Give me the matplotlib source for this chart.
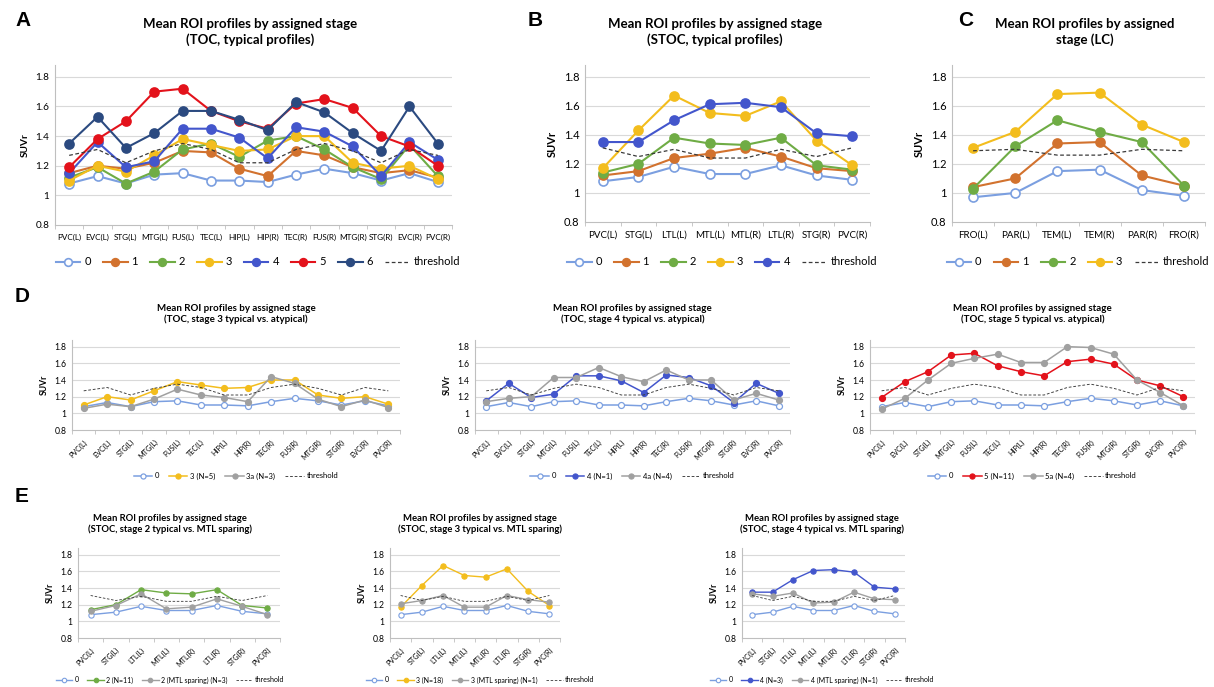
import numpy as np
import matplotlib
matplotlib.use("Agg")
import matplotlib.pyplot as plt

plt.rcParams["font.family"] = ["Lato", "DejaVu Sans"]

W, H = 1214, 687

# region labels
TOC_REGIONS = ["PVC(L)", "EVC(L)", "STG(L)", "MTG(L)", "FUS(L)", "TEC(L)", "HIP(L)",
               "HIP(R)", "TEC(R)", "FUS(R)", "MTG(R)", "STG(R)", "EVC(R)", "PVC(R)"]
STOC_REGIONS = ["PVC(L)", "STG(L)", "LTL(L)", "MTL(L)", "MTL(R)", "LTL(R)", "STG(R)", "PVC(R)"]
LC_REGIONS = ["FRO(L)", "PAR(L)", "TEM(L)", "TEM(R)", "PAR(R)", "FRO(R)"]

# TOC profiles (panel A and D)
toc_threshold = [1.27, 1.31, 1.22, 1.30, 1.35, 1.31, 1.22, 1.22, 1.31, 1.35, 1.30, 1.22, 1.31, 1.27]
toc_stage0 = [1.08, 1.13, 1.08, 1.14, 1.15, 1.10, 1.10, 1.09, 1.14, 1.18, 1.15, 1.10, 1.15, 1.09]
toc_stage1 = [1.15, 1.20, 1.18, 1.22, 1.30, 1.29, 1.18, 1.13, 1.30, 1.27, 1.19, 1.15, 1.17, 1.12]
toc_stage2 = [1.12, 1.19, 1.08, 1.16, 1.31, 1.35, 1.26, 1.37, 1.40, 1.31, 1.19, 1.11, 1.34, 1.13]
toc_stage3 = [1.10, 1.20, 1.16, 1.27, 1.38, 1.34, 1.30, 1.31, 1.40, 1.40, 1.22, 1.18, 1.20, 1.11]
toc_stage4 = [1.15, 1.36, 1.19, 1.23, 1.45, 1.45, 1.39, 1.25, 1.46, 1.43, 1.33, 1.13, 1.36, 1.24]
toc_stage5 = [1.19, 1.38, 1.50, 1.70, 1.72, 1.57, 1.50, 1.45, 1.62, 1.65, 1.59, 1.40, 1.33, 1.20]
toc_stage6 = [1.35, 1.53, 1.32, 1.42, 1.57, 1.57, 1.51, 1.44, 1.63, 1.56, 1.42, 1.30, 1.60, 1.35]
toc_stage3a = [1.06, 1.11, 1.08, 1.17, 1.29, 1.22, 1.19, 1.14, 1.44, 1.36, 1.17, 1.08, 1.16, 1.07]
toc_stage4a = [1.14, 1.18, 1.20, 1.43, 1.43, 1.55, 1.44, 1.38, 1.52, 1.40, 1.40, 1.16, 1.24, 1.16]
toc_stage5a = [1.05, 1.18, 1.40, 1.60, 1.66, 1.71, 1.61, 1.61, 1.80, 1.79, 1.71, 1.40, 1.25, 1.09]

# STOC profiles (panel B and E)
stoc_threshold = [1.31, 1.25, 1.30, 1.24, 1.24, 1.30, 1.25, 1.31]
stoc_stage0 = [1.08, 1.11, 1.18, 1.13, 1.13, 1.19, 1.12, 1.09]
stoc_stage1 = [1.12, 1.15, 1.24, 1.27, 1.31, 1.25, 1.17, 1.15]
stoc_stage2 = [1.14, 1.20, 1.38, 1.34, 1.33, 1.38, 1.19, 1.16]
stoc_stage3 = [1.17, 1.43, 1.67, 1.55, 1.53, 1.63, 1.36, 1.19]
stoc_stage4 = [1.35, 1.35, 1.50, 1.61, 1.62, 1.59, 1.41, 1.39]
stoc_stage2_mtl = [1.12, 1.19, 1.33, 1.15, 1.17, 1.27, 1.18, 1.08]
stoc_stage3_mtl = [1.21, 1.25, 1.31, 1.17, 1.17, 1.31, 1.26, 1.23]
stoc_stage4_mtl = [1.33, 1.30, 1.34, 1.22, 1.23, 1.35, 1.27, 1.26]

# LC profiles (panel C)
lc_threshold = [1.29, 1.30, 1.26, 1.26, 1.30, 1.29]
lc_stage0 = [0.97, 1.00, 1.15, 1.16, 1.02, 0.98]
lc_stage1 = [1.04, 1.10, 1.34, 1.35, 1.12, 1.05]
lc_stage2 = [1.03, 1.32, 1.50, 1.42, 1.35, 1.05]
lc_stage3 = [1.31, 1.42, 1.68, 1.69, 1.47, 1.35]

C0 = "#7b9fe0"
C1 = "#d2722e"
C2 = "#6fac45"
C3 = "#f3bd1d"
C4 = "#4356cc"
C5 = "#e3121b"
C6 = "#2b4a80"
GRAY = "#a0a0a0"
THR = "#3a3a3a"


def px_axes(fig, left, top, right, bottom):
    return fig.add_axes([left / W, 1 - bottom / H, (right - left) / W, (bottom - top) / H])


def style_axes(ax, labels, tick_fs, rotate=False, ytick_fs=None):
    n = len(labels)
    ax.set_xlim(-0.5, n - 0.5)
    ax.set_ylim(0.8, 1.88)
    ax.set_yticks([0.8, 1.0, 1.2, 1.4, 1.6, 1.8])
    ax.set_yticklabels(["0.8", "1", "1.2", "1.4", "1.6", "1.8"],
                       fontsize=ytick_fs or tick_fs + 1)
    ax.set_xticks(range(n))
    if rotate:
        ax.set_xticklabels(labels, fontsize=tick_fs, rotation=45, ha="right",
                           rotation_mode="anchor")
    else:
        ax.set_xticklabels(labels, fontsize=tick_fs)
    ax.set_xticks(np.arange(-0.5, n), minor=True)
    ax.tick_params(axis="x", which="major", length=0, pad=6)
    ax.tick_params(axis="x", which="minor", length=3, color="#bfbfbf")
    ax.tick_params(axis="y", length=0, pad=4)
    for y in [1.0, 1.2, 1.4, 1.6, 1.8]:
        ax.axhline(y, color="#d9d9d9", lw=0.8, zorder=0)
    for side in ["top", "right"]:
        ax.spines[side].set_visible(False)
    for side in ["left", "bottom"]:
        ax.spines[side].set_color("#bfbfbf")
        ax.spines[side].set_linewidth(0.8)
    ax.set_ylabel("SUVr", fontsize=(ytick_fs or tick_fs + 1), fontweight="bold", labelpad=4)
    ax.set_facecolor("none")


def draw(ax, series, threshold, ms, lw):
    x = range(len(threshold))
    for values, color, label, hollow in series:
        ax.plot(x, values, color=color, lw=lw, marker="o", ms=ms,
                mfc="white" if hollow else color, mec=color, mew=lw * 0.8, label=label)
    ax.plot(x, threshold, color=THR, lw=lw * 0.6, ls=(0, (3, 2)), label="threshold")


def legend(fig, ax, cx, cy, fs, hl=2.2, cs=1.1):
    handles, labels = ax.get_legend_handles_labels()
    fig.legend(handles, labels, loc="center", bbox_to_anchor=(cx / W, 1 - cy / H),
               ncol=len(labels), frameon=False, fontsize=fs, handlelength=hl,
               handletextpad=0.35, columnspacing=cs, markerscale=0.85)


fig = plt.figure(figsize=(W / 100, H / 100), dpi=100)

# ---- panel A
ax = px_axes(fig, 55, 65, 452, 225)
style_axes(ax, TOC_REGIONS, 5.9, ytick_fs=7.2)
draw(ax, [(toc_stage0, C0, "0", True), (toc_stage1, C1, "1", False),
          (toc_stage2, C2, "2", False), (toc_stage3, C3, "3", False),
          (toc_stage4, C4, "4", False), (toc_stage5, C5, "5", False),
          (toc_stage6, C6, "6", False)], toc_threshold, 6.5, 1.5)
legend(fig, ax, 258, 262, 8)

# ---- panel B
ax = px_axes(fig, 585, 65, 870, 222)
style_axes(ax, STOC_REGIONS, 7)
draw(ax, [(stoc_stage0, C0, "0", True), (stoc_stage1, C1, "1", False),
          (stoc_stage2, C2, "2", False), (stoc_stage3, C3, "3", False),
          (stoc_stage4, C4, "4", False)], stoc_threshold, 6.5, 1.5)
legend(fig, ax, 722, 262, 8)

# ---- panel C
ax = px_axes(fig, 952, 65, 1205, 222)
style_axes(ax, LC_REGIONS, 7)
draw(ax, [(lc_stage0, C0, "0", True), (lc_stage1, C1, "1", False),
          (lc_stage2, C2, "2", False), (lc_stage3, C3, "3", False)],
     lc_threshold, 6.5, 1.5)
legend(fig, ax, 1078, 262, 8)

# ---- panel D
d_specs = [
    (72, 400, toc_stage3, C3, "3 (N=5)", toc_stage3a, "3a (N=3)", "stage 3"),
    (475, 790, toc_stage4, C4, "4 (N=1)", toc_stage4a, "4a (N=4)", "stage 4"),
    (870, 1195, toc_stage5, C5, "5 (N=11)", toc_stage5a, "5a (N=4)", "stage 5"),
]
for left, right, typ, col, lab, atyp, alab, stage in d_specs:
    ax = px_axes(fig, left, 340, right, 430)
    style_axes(ax, TOC_REGIONS, 5.2, rotate=True)
    draw(ax, [(toc_stage0, C0, "0", True), (typ, col, lab, False),
              (atyp, GRAY, alab, False)], toc_threshold, 4.3, 1.1)
    legend(fig, ax, (left + right) / 2, 476, 5.5, hl=2.4, cs=1.3)
    fig.text((left + right) / 2 / W, 1 - 314 / H,
             f"Mean ROI profiles by assigned stage\n(TOC, {stage} typical vs. atypical)",
             ha="center", va="center", fontsize=7, fontweight="bold", linespacing=1.3)

# ---- panel E
e_specs = [
    (78, 280, stoc_stage2, C2, "2 (N=11)", stoc_stage2_mtl, "2 (MTL sparing) (N=3)", "stage 2", 170),
    (390, 560, stoc_stage3, C3, "3 (N=18)", stoc_stage3_mtl, "3 (MTL sparing) (N=1)", "stage 3", 480),
    (742, 905, stoc_stage4, C4, "4 (N=3)", stoc_stage4_mtl, "4 (MTL sparing) (N=1)", "stage 4", 822),
]
for left, right, typ, col, lab, mtl, mlab, stage, tx in e_specs:
    ax = px_axes(fig, left, 548, right, 638)
    style_axes(ax, STOC_REGIONS, 5.2, rotate=True)
    draw(ax, [(stoc_stage0, C0, "0", True), (typ, col, lab, False),
              (mtl, GRAY, mlab, False)], stoc_threshold, 3.8, 1.0)
    legend(fig, ax, tx, 680, 5, hl=2.4, cs=1.2)
    fig.text(tx / W, 1 - 524 / H,
             f"Mean ROI profiles by assigned stage\n(STOC, {stage} typical vs. MTL sparing)",
             ha="center", va="center", fontsize=6.8, fontweight="bold", linespacing=1.3)

# ---- top titles
for tx, title in [(250, "Mean ROI profiles by assigned stage\n(TOC, typical profiles)"),
                  (715, "Mean ROI profiles by assigned stage\n(STOC, typical profiles)"),
                  (1085, "Mean ROI profiles by assigned\nstage (LC)")]:
    fig.text(tx / W, 1 - 32 / H, title, ha="center", va="center", fontsize=9.5,
             fontweight="bold", linespacing=1.35)

for letter, lx, ly in [("A", 15, 20), ("B", 528, 20), ("C", 958, 20), ("D", 15, 297), ("E", 15, 497)]:
    fig.text(lx / W, 1 - ly / H, letter, ha="left", va="center", fontsize=15,
             fontweight="bold", family=["Liberation Sans", "DejaVu Sans"])

fig.savefig("out.png", dpi=100)
